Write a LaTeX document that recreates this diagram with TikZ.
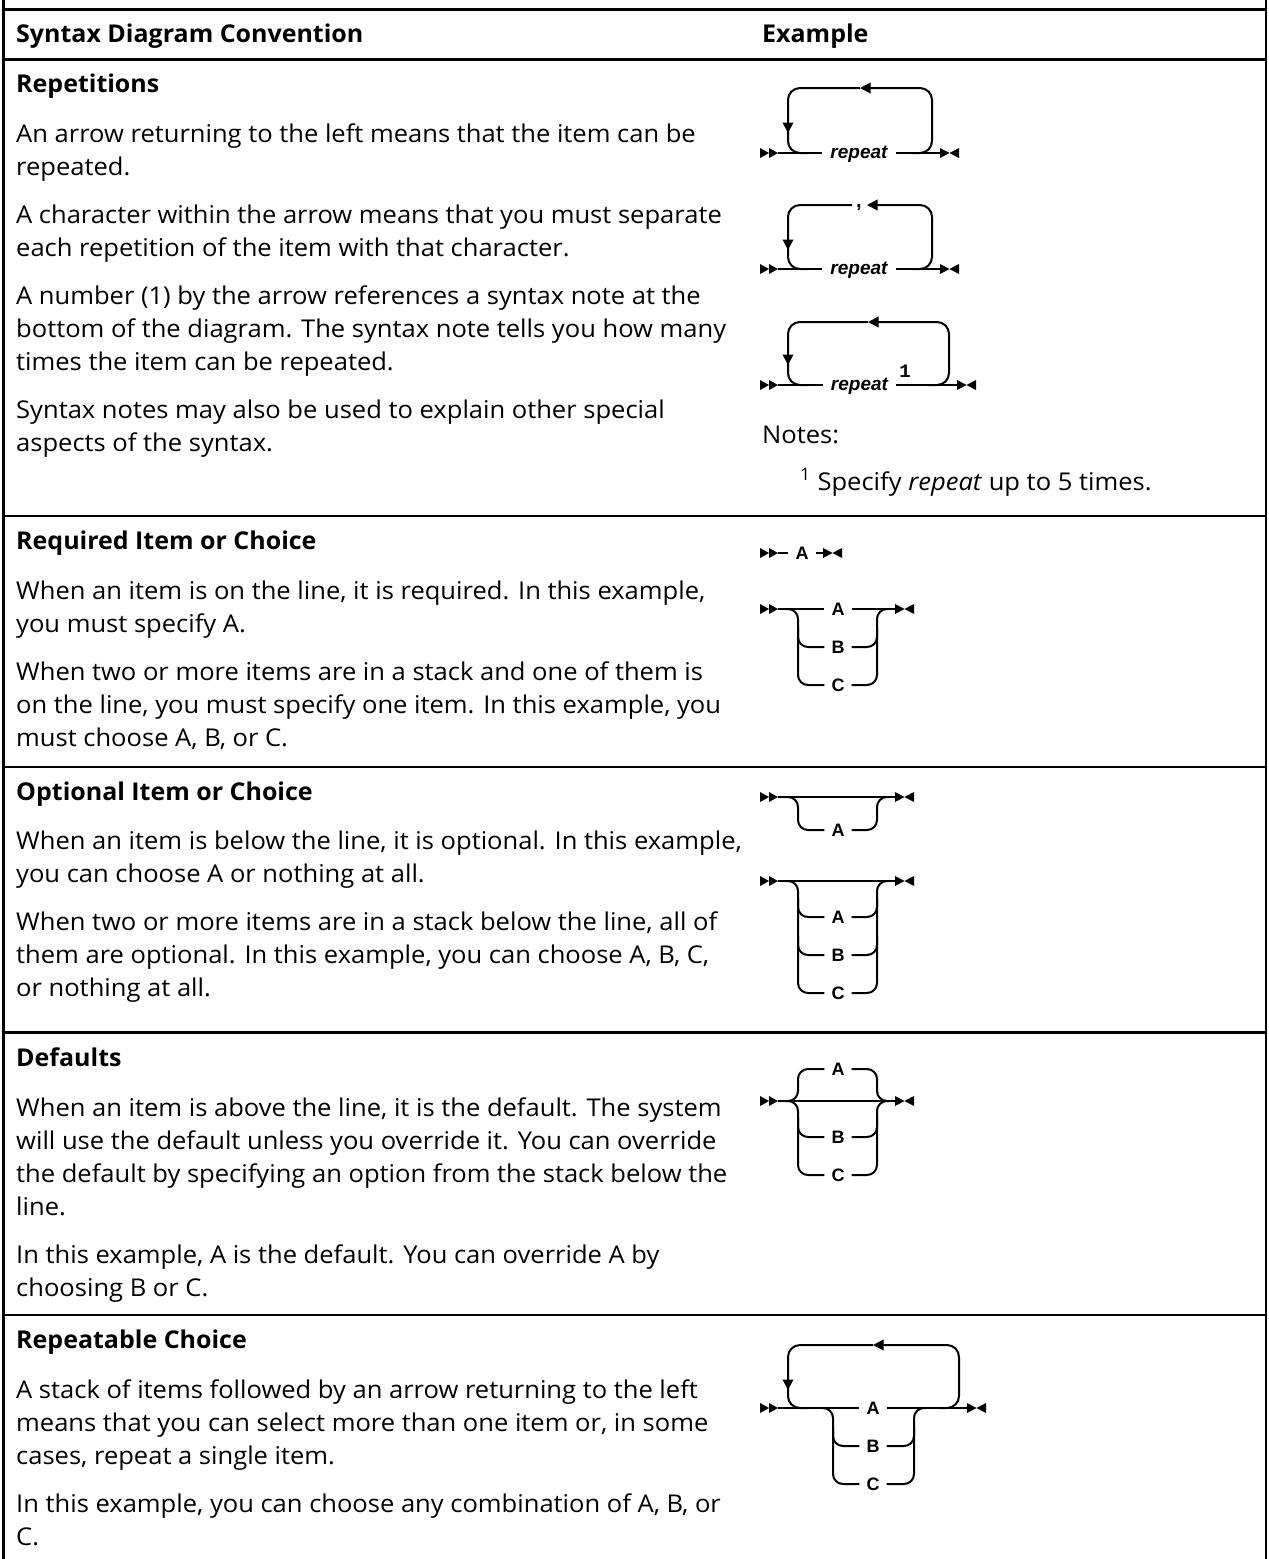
\documentclass[tikz,border=0pt]{standalone}
\usepackage{fontspec}
\setmainfont{Open Sans}[FakeStretch=1.042, BoldFeatures={FakeStretch=1.02}]
\newfontfamily\dgfont{Liberation Sans}
\newfontfamily\dgmono{Liberation Mono}
\usetikzlibrary{arrows.meta}
\tikzset{
  body/.style={anchor=base west, inner sep=0pt, font=\fontsize{24.5}{29}\selectfont},
  head/.style={anchor=base west, inner sep=0pt, font=\fontsize{24.5}{29}\selectfont\bfseries},
  rule/.style={line width=2.5pt},
  frame/.style={line width=2.4pt},
  dl/.style={line width=2pt},
  rc/.style={dl, rounded corners=10pt},
  lc/.style={dl, rounded corners=12pt},
  tip/.style={-{Triangle[length=10.5pt,width=10.5pt]}},
  lbl/.style={font=\dgfont\bfseries\fontsize{18}{20}\selectfont, inner xsep=7pt, inner ysep=0pt, text height=13pt, text depth=0pt, anchor=center},
  rep/.style={font=\dgfont\bfseries\itshape\fontsize{19}{22}\selectfont, inner xsep=8pt, inner ysep=0pt, text height=10pt, text depth=0pt, anchor=center},
  sym/.style={font=\dgfont\bfseries\fontsize{20}{22}\selectfont, inner sep=0pt, anchor=base},
  num/.style={font=\dgmono\bfseries\fontsize{19}{22}\selectfont, inner sep=0pt, anchor=base},
  startmark/.pic={\fill (0,-5) -- (9,0) -- (0,5) -- cycle; \fill (9,-5) -- (18,0) -- (9,5) -- cycle;},
  endmark/.pic={\fill (0,-5) -- (9.5,0) -- (0,5) -- cycle; \fill (19,-5) -- (9.5,0) -- (19,5) -- cycle;},
}
\begin{document}
\begin{tikzpicture}[x=1pt,y=-1pt]
\useasboundingbox (0,0) rectangle (1269,1559);
% ---------- table frame ----------
\draw[frame] (3.5,0) -- (3.5,1559);
\draw[frame] (1266,0) -- (1266,1559);
\draw[rule] (3.5,9.5) -- (1266,9.5);
\draw[rule] (3.5,59.5) -- (1266,59.5);
\draw[rule] (3.5,516) -- (1266,516);
\draw[rule] (3.5,767) -- (1266,767);
\draw[rule] (3.5,1032.5) -- (1266,1032.5);
\draw[rule] (3.5,1315) -- (1266,1315);
% ---------- header ----------
\node[head] (h1) at (16,42) {Syntax Diagram Convention};
\node[head] (h2) at (762,42) {Example};
% ---------- section 1 ----------
\node[head] (s1) at (16,92) {Repetitions};
\node[body] (s1a) at (16,142) {An arrow returning to the left means that the item can be};
\node[body] (s1b) at (16,175) {repeated.};
\node[body] (s1c) at (16,223) {A character within the arrow means that you must separate};
\node[body] (s1d) at (16,256) {each repetition of the item with that character.};
\node[body] (s1e) at (16,304) {A number (1) by the arrow references a syntax note at the};
\node[body] (s1f) at (16,337) {bottom of the diagram. The syntax note tells you how many};
\node[body] (s1g) at (16,370) {times the item can be repeated.};
\node[body] (s1h) at (16,418) {Syntax notes may also be used to explain other special};
\node[body] (s1i) at (16,451) {aspects of the syntax.};
\node[body] (n1) at (762,443) {Notes:};
\node[body] (n2) at (800,490) {\textsuperscript{1} Specify \textit{repeat} up to 5 times.};
% ---------- section 2 ----------
\node[head] (s2) at (16,549) {Required Item or Choice};
\node[body] (s2a) at (16,599) {When an item is on the line, it is required. In this example,};
\node[body] (s2b) at (16,632) {you must specify A.};
\node[body] (s2c) at (16,680) {When two or more items are in a stack and one of them is};
\node[body] (s2d) at (16,713) {on the line, you must specify one item. In this example, you};
\node[body] (s2e) at (16,746) {must choose A, B, or C.};
% ---------- section 3 ----------
\node[head] (s3) at (16,800) {Optional Item or Choice};
\node[body] (s3a) at (16,849) {When an item is below the line, it is optional. In this example,};
\node[body] (s3b) at (16,882) {you can choose A or nothing at all.};
\node[body] (s3c) at (16,930) {When two or more items are in a stack below the line, all of};
\node[body] (s3d) at (16,963) {them are optional. In this example, you can choose A, B, C,};
\node[body] (s3e) at (16,996) {or nothing at all.};
% ---------- section 4 ----------
\node[head] (s4) at (16,1066) {Defaults};
\node[body] (s4a) at (16,1116) {When an item is above the line, it is the default. The system};
\node[body] (s4b) at (16,1149) {will use the default unless you override it. You can override};
\node[body] (s4c) at (16,1182) {the default by specifying an option from the stack below the};
\node[body] (s4d) at (16,1215) {line.};
\node[body] (s4e) at (16,1263) {In this example, A is the default. You can override A by};
\node[body] (s4f) at (16,1296) {choosing B or C.};
% ---------- section 5 ----------
\node[head] (s5) at (16,1348) {Repeatable Choice};
\node[body] (s5a) at (16,1398) {A stack of items followed by an arrow returning to the left};
\node[body] (s5b) at (16,1431) {means that you can select more than one item or, in some};
\node[body] (s5c) at (16,1464) {cases, repeat a single item.};
\node[body] (s5d) at (16,1512) {In this example, you can choose any combination of A, B, or};
\node[body] (s5e) at (16,1545) {C.};

% ================= diagrams =================
% --- R1 ---
\pic at (760,153) {startmark};
\pic at (940,153) {endmark};
\coordinate (r1s) at (778,153); \coordinate (r1e) at (940,153);
\node[rep] (r1) at (859,153) {repeat};
\draw[dl] (r1s) -- (r1.west);
\draw[dl] (r1.east) -- (r1e);
\draw[lc,tip] (912,153) -- (932,153) -- (932,88) -- (860,88);
\draw[lc,tip] (860,88) -- (788,88) -- (788,133);
\draw[lc] (788,131) -- (788,153) -- (808,153);
% --- R2 ---
\pic at (760,269) {startmark};
\pic at (940,269) {endmark};
\coordinate (r2s) at (778,269); \coordinate (r2e) at (940,269);
\node[rep] (r2) at (859,269) {repeat};
\draw[dl] (r2s) -- (r2.west);
\draw[dl] (r2.east) -- (r2e);
\node[sym] (cm) at (859,207) {,};
\draw[lc,tip] (912,269) -- (932,269) -- (932,205) -- (867,205);
\draw[lc,tip] (852,205) -- (788,205) -- (788,250);
\draw[lc] (788,248) -- (788,269) -- (808,269);
% --- R3 ---
\pic at (760,385) {startmark};
\pic at (957,385) {endmark};
\coordinate (r3s) at (778,385); \coordinate (r3e) at (957,385);
\node[rep] (r3) at (859.5,385) {repeat};
\node[num] (r3n) at (905,377) {1};
\draw[dl] (r3s) -- (r3.west);
\draw[dl] (r3.east) -- (r3e);
\draw[lc,tip] (929,385) -- (949,385) -- (949,322) -- (868,322);
\draw[lc,tip] (868,322) -- (788,322) -- (788,365);
\draw[lc] (788,363) -- (788,385) -- (808,385);
% --- Required A ---
\pic at (760,553) {startmark};
\pic at (823,553) {endmark};
\coordinate (q1s) at (778,553); \coordinate (q1e) at (823,553);
\node[lbl] (q1) at (802,553) {A};
\draw[dl] (q1s) -- (q1.west);
\draw[dl] (q1.east) -- (q1e);
% --- Required stack ---
\pic at (760,609) {startmark};
\pic at (895,609) {endmark};
\coordinate (q2s) at (778,609); \coordinate (q2e) at (895,609);
\node[lbl] (q2a) at (838,609) {A};
\node[lbl] (q2b) at (838,647) {B};
\node[lbl] (q2c) at (838,685) {C};
\draw[dl] (q2s) -- (q2a.west);
\draw[dl] (q2a.east) -- (q2e);
\draw[rc] (786,609) -- (798,609) -- (798,685) -- (q2c.west);
\draw[rc] (798,628) -- (798,647) -- (q2b.west);
\draw[rc] (q2c.east) -- (877,685) -- (877,609) -- (889,609);
\draw[rc] (q2b.east) -- (877,647) -- (877,628);
% --- Optional A ---
\pic at (760,797) {startmark};
\pic at (895,797) {endmark};
\coordinate (o1s) at (778,797); \coordinate (o1e) at (895,797);
\node[lbl] (o1a) at (838,830) {A};
\draw[dl] (o1s) -- (o1e);
\draw[rc] (786,797) -- (798,797) -- (798,830) -- (o1a.west);
\draw[rc] (o1a.east) -- (877,830) -- (877,797) -- (889,797);
% --- Optional stack ---
\pic at (760,881) {startmark};
\pic at (895,881) {endmark};
\coordinate (o2s) at (778,881); \coordinate (o2e) at (895,881);
\node[lbl] (o2a) at (838,917) {A};
\node[lbl] (o2b) at (838,955) {B};
\node[lbl] (o2c) at (838,993) {C};
\draw[dl] (o2s) -- (o2e);
\draw[rc] (786,881) -- (798,881) -- (798,993) -- (o2c.west);
\draw[rc] (798,898) -- (798,917) -- (o2a.west);
\draw[rc] (798,936) -- (798,955) -- (o2b.west);
\draw[rc] (o2c.east) -- (877,993) -- (877,881) -- (889,881);
\draw[rc] (o2a.east) -- (877,917) -- (877,898);
\draw[rc] (o2b.east) -- (877,955) -- (877,936);
% --- Defaults ---
\pic at (760,1101) {startmark};
\pic at (895,1101) {endmark};
\coordinate (d1s) at (778,1101); \coordinate (d1e) at (895,1101);
\node[lbl] (d1a) at (838,1069) {A};
\node[lbl] (d1b) at (838,1137) {B};
\node[lbl] (d1c) at (838,1175) {C};
\draw[dl] (d1s) -- (d1e);
\draw[rc] (d1a.west) -- (798,1069) -- (798,1101) -- (786,1101);
\draw[rc] (786,1101) -- (798,1101) -- (798,1175) -- (d1c.west);
\draw[rc] (798,1118) -- (798,1137) -- (d1b.west);
\draw[rc] (d1a.east) -- (877,1069) -- (877,1101) -- (889,1101);
\draw[rc] (889,1101) -- (877,1101) -- (877,1175) -- (d1c.east);
\draw[rc] (877,1118) -- (877,1137) -- (d1b.east);
% --- Repeatable choice ---
\pic at (760,1408) {startmark};
\pic at (967,1408) {endmark};
\coordinate (c1s) at (778,1408); \coordinate (c1e) at (967,1408);
\node[lbl] (c1a) at (873,1408) {A};
\node[lbl] (c1b) at (873,1446) {B};
\node[lbl] (c1c) at (873,1484) {C};
\draw[dl] (c1s) -- (c1a.west);
\draw[dl] (c1a.east) -- (c1e);
\draw[rc] (821,1408) -- (833,1408) -- (833,1484) -- (c1c.west);
\draw[rc] (833,1427) -- (833,1446) -- (c1b.west);
\draw[rc] (c1c.east) -- (914,1484) -- (914,1408) -- (926,1408);
\draw[rc] (c1b.east) -- (914,1446) -- (914,1427);
\draw[lc,tip] (939,1408) -- (959,1408) -- (959,1345) -- (873,1345);
\draw[lc,tip] (873,1345) -- (788,1345) -- (788,1390);
\draw[lc] (788,1388) -- (788,1408) -- (808,1408);
\end{tikzpicture}
\end{document}
